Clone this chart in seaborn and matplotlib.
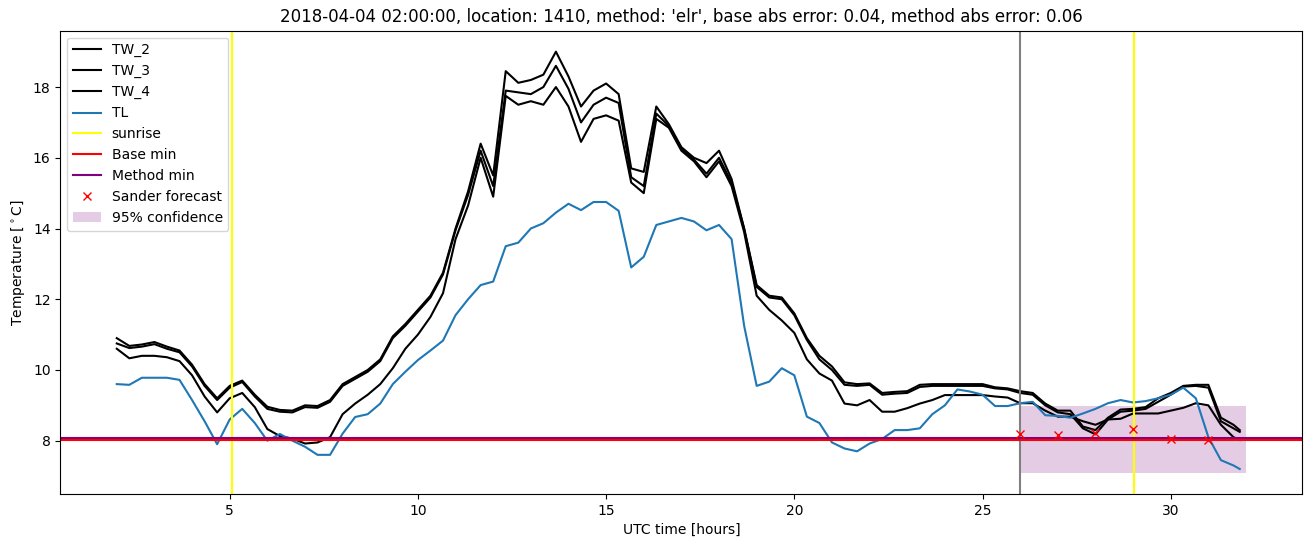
import numpy as np
import matplotlib
matplotlib.use("Agg")
import matplotlib.pyplot as plt
import seaborn as sns

# time axis: 20-minute samples from 02:00 on day one to 07:50 on day two
hours = np.r_[np.arange(2, 31.7, 1 / 3), 31 + 5 / 6]

tl = [9.60, 9.58, 9.78, 9.78, 9.78, 9.72, 9.15, 8.55, 7.90, 8.60,
      8.90, 8.50, 8.00, 8.19, 8.00, 7.83, 7.60, 7.60, 8.20, 8.67,
      8.75, 9.05, 9.60, 9.95, 10.28, 10.55, 10.83, 11.55, 12.00, 12.40,
      12.50, 13.50, 13.60, 14.00, 14.15, 14.45, 14.70, 14.52, 14.75, 14.75,
      14.50, 12.90, 13.20, 14.10, 14.20, 14.30, 14.20, 13.95, 14.10, 13.70,
      11.25, 9.55, 9.67, 10.05, 9.85, 8.68, 8.50, 7.95, 7.78, 7.70,
      7.92, 8.05, 8.30, 8.30, 8.35, 8.75, 9.00, 9.45, 9.39, 9.30,
      8.98, 8.98, 9.06, 9.10, 8.72, 8.70, 8.65, 8.77, 8.90, 9.06,
      9.15, 9.08, 9.12, 9.20, 9.30, 9.50, 9.20, 8.10, 7.45, 7.30,
      7.20]

tw_2 = [10.90, 10.68, 10.72, 10.79, 10.66, 10.55, 10.15, 9.60, 9.20, 9.55,
        9.70, 9.30, 8.96, 8.87, 8.85, 9.00, 8.98, 9.15, 9.60, 9.80,
        10.00, 10.30, 10.95, 11.30, 11.70, 12.10, 12.75, 14.00, 15.05, 16.40,
        15.50, 18.45, 18.12, 18.20, 18.35, 19.00, 18.30, 17.45, 17.90, 18.10,
        17.80, 15.70, 15.60, 17.45, 16.95, 16.30, 16.00, 15.85, 16.20, 15.40,
        14.00, 12.40, 12.10, 12.05, 11.60, 10.90, 10.40, 10.10, 9.65, 9.60,
        9.62, 9.35, 9.38, 9.40, 9.58, 9.60, 9.60, 9.60, 9.60, 9.60,
        9.51, 9.48, 9.40, 9.35, 9.05, 8.85, 8.85, 8.40, 8.30, 8.65,
        8.88, 8.90, 8.95, 9.20, 9.35, 9.55, 9.58, 9.58, 8.65, 8.45,
        8.30]

tw_3 = [10.75, 10.62, 10.66, 10.73, 10.60, 10.50, 10.10, 9.55, 9.15, 9.50,
        9.66, 9.25, 8.90, 8.82, 8.80, 8.95, 8.93, 9.10, 9.55, 9.75,
        9.95, 10.25, 10.90, 11.25, 11.65, 12.05, 12.70, 13.95, 14.95, 16.20,
        15.20, 17.90, 17.85, 17.80, 18.00, 18.60, 17.95, 17.00, 17.50, 17.70,
        17.55, 15.45, 15.20, 17.25, 16.90, 16.25, 15.95, 15.55, 16.00, 15.30,
        14.00, 12.35, 12.05, 12.00, 11.55, 10.85, 10.30, 10.00, 9.58, 9.55,
        9.58, 9.30, 9.33, 9.35, 9.52, 9.55, 9.55, 9.55, 9.55, 9.55,
        9.48, 9.45, 9.35, 9.30, 9.00, 8.80, 8.75, 8.35, 8.18, 8.60,
        8.82, 8.85, 8.90, 9.10, 9.30, 9.53, 9.55, 9.50, 8.55, 8.35,
        8.25]

tw_4 = [10.60, 10.33, 10.40, 10.40, 10.36, 10.25, 9.85, 9.25, 8.80, 9.20,
        9.35, 8.95, 8.33, 8.13, 8.06, 7.92, 7.95, 8.10, 8.75, 9.05,
        9.30, 9.60, 10.05, 10.60, 11.00, 11.50, 12.17, 13.70, 14.65, 16.00,
        14.90, 17.75, 17.50, 17.60, 17.50, 18.00, 17.45, 16.45, 17.10, 17.20,
        17.05, 15.30, 15.00, 17.10, 16.85, 16.20, 15.90, 15.45, 15.90, 15.20,
        13.90, 12.10, 11.70, 11.40, 11.05, 10.30, 9.90, 9.70, 9.05, 9.00,
        9.15, 8.82, 8.82, 8.92, 9.05, 9.15, 9.29, 9.29, 9.29, 9.29,
        9.25, 9.22, 9.06, 9.06, 8.85, 8.68, 8.68, 8.55, 8.45, 8.60,
        8.62, 8.77, 8.77, 8.77, 8.85, 8.93, 9.06, 9.00, 8.45, 8.10,
        8.02]

sunrise_hours = [5.05, 29.02]
forecast_hour = 26
base_min = 8.03
method_min = 8.07

sander_hours = [26, 27, 28, 29, 30, 31]
sander_values = [8.18, 8.17, 8.23, 8.32, 8.05, 8.02]

conf_hours = [26, 32]
conf_lower = [7.09, 7.09]
conf_upper = [8.98, 8.98]


def main():
    fig, ax = plt.subplots(figsize=(13.11, 5.47), dpi=100)
    fig.subplots_adjust(left=0.046, right=0.9935, bottom=0.097, top=0.944)

    sns.lineplot(x=hours, y=tw_2, color="black", label="TW_2", ax=ax)
    sns.lineplot(x=hours, y=tw_3, color="black", label="TW_3", ax=ax)
    sns.lineplot(x=hours, y=tw_4, color="black", label="TW_4", ax=ax)
    sns.lineplot(x=hours, y=tl, color="tab:blue", label="TL", ax=ax)

    ax.axvline(sunrise_hours[0], color="yellow", label="sunrise")
    ax.axvline(sunrise_hours[1], color="yellow")
    ax.axvline(forecast_hour, color="gray")
    # red sits on top of the purple one in the original
    ax.axhline(base_min, color="red", label="Base min", zorder=2.2)
    ax.axhline(method_min, color="purple", label="Method min", zorder=2.1)

    ax.plot(sander_hours, sander_values, "x", color="red", linestyle="none",
            label="Sander forecast", zorder=2.3)
    ax.fill_between(conf_hours, conf_lower, conf_upper, color="purple",
                    alpha=0.2, linewidth=0, label="95% confidence")

    ax.set_title("2018-04-04 02:00:00, location: 1410, method: 'elr', "
                 "base abs error: 0.04, method abs error: 0.06")
    ax.set_xlabel("UTC time [hours]")
    ax.set_ylabel(r"Temperature [$^\circ$C]")
    ax.legend(loc="upper left")

    fig.savefig("out.png", dpi=100)


if __name__ == "__main__":
    main()
